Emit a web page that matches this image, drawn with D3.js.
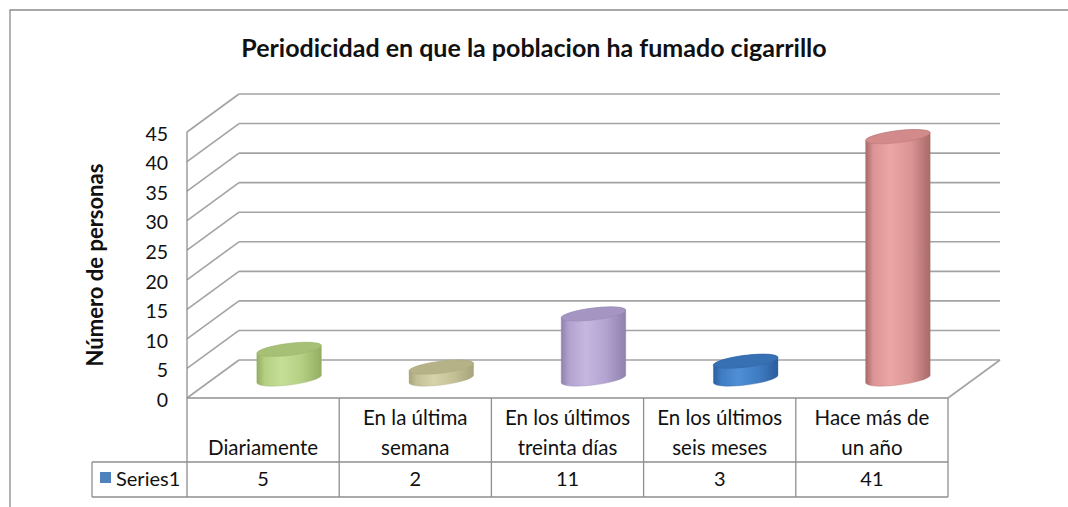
<!DOCTYPE html>
<html>
<head>
<meta charset="utf-8">
<script src="https://cdn.jsdelivr.net/npm/d3@7"></script>
<style>
  html, body { margin: 0; padding: 0; background: #fff; }
  svg { display: block; font-family: Lato, "Open Sans", sans-serif; }
</style>
</head>
<body>
<svg id="chart" width="1068" height="507"></svg>
<script>
// ---- data ----
const chartTitle = "Periodicidad en que la poblacion ha fumado cigarrillo";
const yAxisTitle = "Número de personas";
const seriesName = "Series1";
const categories = ["Diariamente", "En la última semana", "En los últimos treinta días", "En los últimos seis meses", "Hace más de un año"];
const categoryLines = [["Diariamente"], ["En la última", "semana"], ["En los últimos", "treinta días"], ["En los últimos", "seis meses"], ["Hace más de", "un año"]];
const values = [5, 2, 11, 3, 41];
const yTicks = [0, 5, 10, 15, 20, 25, 30, 35, 40, 45];

// cylinder colours: [edge, highlight, mid, top]
const barColors = [
  ["#93ad62", "#c6df98", "#b4cf82", "#a6c076"],
  ["#a7a37a", "#d6d3ab", "#c4c096", "#b6b288"],
  ["#8f80ad", "#c6b7e0", "#b2a2cf", "#a595c2"],
  ["#2c5d9c", "#4f8fd6", "#3f7cc2", "#3870b4"],
  ["#a86a6a", "#eca6a6", "#dc9494", "#d28a8a"]
];
const legendColor = "#4f81bd";

// ---- layout ----
const svg = d3.select("#chart");
const front = { left: 187, right: 948, top: 132, bottom: 398 };
const depth = { dx: 52, dy: -38 };
const gridColor = "#a3a3a3";
const tableColor = "#8f8f8f";
const textColor = "#111";

const x = d3.scaleBand().domain(categories).range([front.left, front.right]);
const y = d3.scaleLinear().domain([0, 45]).range([front.bottom, front.top]);

// outer chart frame
svg.append("path")
  .attr("d", `M10,507 V10 H1068`)
  .attr("fill", "none").attr("stroke", "#8a8a8a").attr("stroke-width", 1.3);

// title
svg.append("text")
  .attr("x", 534).attr("y", 57)
  .attr("text-anchor", "middle")
  .attr("font-size", 25).attr("font-weight", "bold")
  .attr("fill", textColor)
  .text(chartTitle);

// y axis title
svg.append("text")
  .attr("transform", `translate(103,265) rotate(-90)`)
  .attr("text-anchor", "middle")
  .attr("font-size", 22).attr("font-weight", "bold")
  .attr("fill", textColor)
  .text(yAxisTitle);

// gridlines: side wall diagonals and back wall lines
const grid = svg.append("g").attr("stroke", gridColor).attr("stroke-width", 1.6).attr("fill", "none");
yTicks.forEach(v => {
  const yy = y(v);
  grid.append("line")
    .attr("x1", front.left).attr("y1", yy)
    .attr("x2", front.left + depth.dx).attr("y2", yy + depth.dy);
  grid.append("line")
    .attr("x1", front.left + depth.dx).attr("y1", yy + depth.dy)
    .attr("x2", front.right + depth.dx).attr("y2", yy + depth.dy);
});
// floor right edge
grid.append("line")
  .attr("x1", front.right).attr("y1", y(0))
  .attr("x2", front.right + depth.dx).attr("y2", y(0) + depth.dy);

// y tick labels
svg.append("g").selectAll("text").data(yTicks).join("text")
  .attr("x", 168).attr("y", d => y(d) + 2)
  .attr("dy", "0.35em")
  .attr("text-anchor", "end")
  .attr("font-size", 19.5)
  .attr("fill", textColor)
  .text(d => d);

// ---- cylinders ----
const defs = svg.append("defs");
barColors.forEach((c, i) => {
  const g = defs.append("linearGradient").attr("id", "cyl" + i)
    .attr("x1", 0).attr("x2", 1).attr("y1", 0).attr("y2", 0);
  g.append("stop").attr("offset", "0%").attr("stop-color", c[0]);
  g.append("stop").attr("offset", "12%").attr("stop-color", c[2]);
  g.append("stop").attr("offset", "38%").attr("stop-color", c[1]);
  g.append("stop").attr("offset", "70%").attr("stop-color", c[2]);
  g.append("stop").attr("offset", "100%").attr("stop-color", c[0]);
});

const rx = 32.5, ry = 6, tilt = -7;
const th = tilt * Math.PI / 180;
const t0 = Math.atan2(-ry * Math.sin(th), rx * Math.cos(th));
function ellPt(cx, cy, t) {
  return [cx + rx * Math.cos(t) * Math.cos(th) - ry * Math.sin(t) * Math.sin(th),
          cy + rx * Math.cos(t) * Math.sin(th) + ry * Math.sin(t) * Math.cos(th)];
}
function bodyPath(cx, yTop, yBot) {
  const rT = ellPt(cx, yTop, t0), lT = ellPt(cx, yTop, t0 + Math.PI);
  const rB = ellPt(cx, yBot, t0), lB = ellPt(cx, yBot, t0 + Math.PI);
  return `M${lT} L${lB} A${rx},${ry} ${tilt} 0 0 ${rB} L${rT} A${rx},${ry} ${tilt} 0 0 ${lT} Z`;
}

const bars = svg.append("g").selectAll("g").data(values).join("g");
bars.each(function (v, i) {
  const g = d3.select(this);
  const cx = x(categories[i]) + x.bandwidth() / 2 + depth.dx / 2;
  const yBot = y(0) + depth.dy / 2;
  const yTop = y(v) + depth.dy / 2;
  g.append("path")
    .attr("d", bodyPath(cx, yTop, yBot))
    .attr("fill", `url(#cyl${i})`)
    .attr("stroke", barColors[i][0]).attr("stroke-width", 0.6).attr("stroke-opacity", 0.6);
  g.append("ellipse")
    .attr("cx", cx).attr("cy", yTop).attr("rx", rx).attr("ry", ry)
    .attr("transform", `rotate(${tilt},${cx},${yTop})`)
    .attr("fill", barColors[i][3])
    .attr("stroke", barColors[i][0]).attr("stroke-width", 0.6).attr("stroke-opacity", 0.5);
});

// ---- data table ----
const headerBottom = 462, tableBottom = 497, legendLeft = 92;
const table = svg.append("g").attr("stroke", tableColor).attr("stroke-width", 1.3).attr("fill", "none");
// front floor edge / table top
table.append("line").attr("x1", front.left).attr("x2", front.right).attr("y1", y(0)).attr("y2", y(0));
table.append("line").attr("x1", legendLeft).attr("x2", front.right).attr("y1", headerBottom).attr("y2", headerBottom);
table.append("line").attr("x1", legendLeft).attr("x2", front.right).attr("y1", tableBottom).attr("y2", tableBottom);
table.append("line").attr("x1", legendLeft).attr("x2", legendLeft).attr("y1", headerBottom).attr("y2", tableBottom);
// value axis line continuing into the table
table.append("line").attr("x1", front.left).attr("x2", front.left).attr("y1", y(45)).attr("y2", tableBottom);
categories.forEach(c => {
  const xr = x(c) + x.bandwidth();
  table.append("line").attr("x1", xr).attr("x2", xr).attr("y1", y(0)).attr("y2", tableBottom);
});

// category labels (bottom-aligned in header row)
const lineH = 30;
const catG = svg.append("g").attr("font-size", 20.5).attr("fill", textColor).attr("text-anchor", "middle");
categoryLines.forEach((lines, i) => {
  const cx = x(categories[i]) + x.bandwidth() / 2;
  lines.forEach((ln, k) => {
    catG.append("text")
      .attr("x", cx)
      .attr("y", 455 - (lines.length - 1 - k) * lineH)
      .text(ln);
  });
});

// values row
svg.append("g").selectAll("text").data(values).join("text")
  .attr("x", (d, i) => x(categories[i]) + x.bandwidth() / 2)
  .attr("y", 486)
  .attr("text-anchor", "middle")
  .attr("font-size", 20)
  .attr("fill", textColor)
  .text(d => d);

// legend key in table
svg.append("rect").attr("x", 100).attr("y", 472).attr("width", 11).attr("height", 11).attr("fill", legendColor);
svg.append("text").attr("x", 116).attr("y", 486)
  .attr("font-size", 20).attr("fill", textColor).text(seriesName);
</script>
</body>
</html>
